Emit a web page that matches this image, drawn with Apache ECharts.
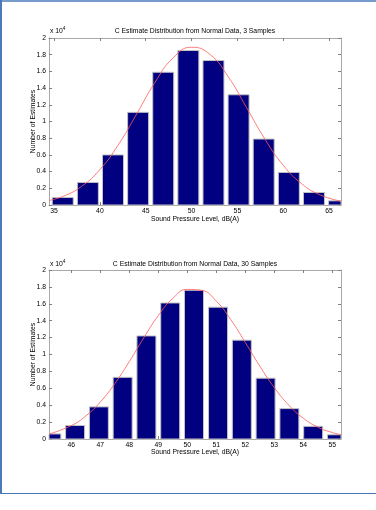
<!DOCTYPE html>
<html>
<head>
<meta charset="utf-8">
<script src="https://cdn.jsdelivr.net/npm/echarts@6/dist/echarts.min.js"></script>
<style>
  html, body { margin: 0; padding: 0; background: #fff; }
  #chart { width: 376px; height: 510px; }
</style>
</head>
<body>
<div id="chart"></div>
<script>
// histogram 1: 3 samples (counts in units of 10^4)
var binCenters3 = [35.95, 38.69, 41.43, 44.17, 46.91, 49.65, 52.39, 55.13, 57.87, 60.61, 63.35, 66.09];
var counts3 = [0.09, 0.27, 0.6, 1.11, 1.59, 1.85, 1.73, 1.32, 0.79, 0.39, 0.15, 0.05];
// fitted normal curve
var fitX3 = [34.45, 36, 38, 40, 42, 44, 46, 48, 50, 52, 54, 56, 58, 60, 62, 64, 66.3];
var fitY3 = [0.055, 0.104, 0.223, 0.424, 0.72, 1.088, 1.467, 1.763, 1.889, 1.804, 1.536, 1.166, 0.789, 0.476, 0.256, 0.122, 0.046];
var xTicks3 = [35, 40, 45, 50, 55, 60, 65];

// histogram 2: 30 samples
var binCenters30 = [45.31, 46.13, 46.95, 47.77, 48.59, 49.41, 50.23, 51.06, 51.88, 52.70, 53.52, 54.34, 55.16];
var counts30 = [0.06, 0.16, 0.38, 0.73, 1.22, 1.61, 1.76, 1.56, 1.17, 0.72, 0.36, 0.15, 0.05];
var fitX30 = [45.23, 46, 46.5, 47, 47.5, 48, 48.5, 49, 49.5, 50, 50.5, 51, 51.5, 52, 52.5, 53, 53.5, 54, 54.5, 55, 55.3];
var fitY30 = [0.058, 0.159, 0.273, 0.438, 0.656, 0.917, 1.198, 1.461, 1.664, 1.77, 1.758, 1.631, 1.412, 1.142, 0.862, 0.608, 0.401, 0.246, 0.141, 0.076, 0.051];
var xTicks30 = [46, 47, 48, 49, 50, 51, 52, 53, 54, 55];

var titles = ['C Estimate Distribution from Normal Data, 3 Samples', 'C Estimate Distribution from Normal Data, 30 Samples'];
var xName = 'Sound Pressure Level, dB(A)';
var yName = 'Number of Estimates';

var FONT = '"Liberation Sans", Arial, sans-serif';
var FS = 6.8;
var boxColor = '#a8a8a8';
var tickColor = '#808080';

var chart = echarts.init(document.getElementById('chart'));

function zip(a, b) {
    return a.map(function(v, i) { return [v, b[i]]; });
}

function xAxes(gridIndex, min, max, ticks) {
    return [{
        type: 'value', gridIndex: gridIndex, position: 'bottom', min: min, max: max,
        axisLine: { show: true, onZero: false, lineStyle: { color: boxColor, width: 1 } },
        axisTick: { show: true, inside: true, length: 3, customValues: ticks, lineStyle: { color: tickColor } },
        axisLabel: { show: true, customValues: ticks, fontSize: FS, color: '#000', fontFamily: FONT, margin: 3 },
        splitLine: { show: false }
    }, {
        type: 'value', gridIndex: gridIndex, position: 'top', min: min, max: max,
        axisLine: { show: true, onZero: false, lineStyle: { color: boxColor, width: 1 } },
        axisTick: { show: true, inside: true, length: 3, customValues: ticks, lineStyle: { color: tickColor } },
        axisLabel: { show: false },
        splitLine: { show: false }
    }];
}

function yAxes(gridIndex) {
    return [{
        type: 'value', gridIndex: gridIndex, position: 'left', min: 0, max: 2, interval: 0.2,
        axisLine: { show: true, onZero: false, lineStyle: { color: boxColor, width: 1 } },
        axisTick: { show: true, inside: true, length: 3, lineStyle: { color: tickColor } },
        axisLabel: { show: true, fontSize: FS, color: '#000', fontFamily: FONT, margin: 3 },
        splitLine: { show: false }
    }, {
        type: 'value', gridIndex: gridIndex, position: 'right', min: 0, max: 2, interval: 0.2,
        axisLine: { show: true, onZero: false, lineStyle: { color: boxColor, width: 1 } },
        axisTick: { show: true, inside: true, length: 3, lineStyle: { color: tickColor } },
        axisLabel: { show: false },
        splitLine: { show: false }
    }];
}

// bars drawn through the axes, clipped to the plot box like MATLAB does
function barSeries(axisIdx, centers, counts, width) {
    return {
        type: 'custom', xAxisIndex: axisIdx, yAxisIndex: axisIdx,
        data: zip(centers, counts),
        encode: { x: 0, y: 1 },
        renderItem: function(params, api) {
            var top = api.coord([api.value(0), api.value(1)]);
            var base = api.coord([api.value(0), 0]);
            var cs = params.coordSys;
            var rect = echarts.graphic.clipRectByRect(
                { x: top[0] - width / 2, y: top[1], width: width, height: base[1] - top[1] },
                { x: cs.x, y: cs.y, width: cs.width, height: cs.height }
            );
            return rect && {
                type: 'rect', shape: rect,
                style: { fill: '#000080', stroke: '#c4c4c4', lineWidth: 1 }
            };
        },
        animation: false
    };
}

function fitSeries(axisIdx, xs, ys) {
    return {
        type: 'line', xAxisIndex: axisIdx, yAxisIndex: axisIdx,
        data: zip(xs, ys), smooth: true, showSymbol: false, symbol: 'none',
        lineStyle: { color: '#ff5c5c', width: 0.8 },
        z: 5, animation: false
    };
}

function label(text, x, y, rotate) {
    return {
        type: 'text', x: x, y: y, rotation: rotate ? Math.PI / 2 : 0,
        style: { text: text, fontSize: FS, fontFamily: FONT, fill: '#000', align: 'center', verticalAlign: 'middle' }
    };
}

function expLabel(x, y) {
    return {
        type: 'text', x: x, y: y,
        style: {
            text: '{a|x 10}{b|4}',
            verticalAlign: 'middle',
            rich: {
                a: { fontSize: FS, fontFamily: FONT, fill: '#000' },
                b: { fontSize: 4.8, fontFamily: FONT, fill: '#000', verticalAlign: 'top', padding: [0, 0, 4, 0] }
            }
        }
    };
}

var option = {
    animation: false,
    backgroundColor: '#fff',
    grid: [
        { left: 49, top: 38, width: 292, height: 167 },
        { left: 49, top: 270, width: 292, height: 169 }
    ],
    xAxis: xAxes(0, 34.45, 66.3, xTicks3).concat(xAxes(1, 45.23, 55.3, xTicks30)),
    yAxis: yAxes(0).concat(yAxes(1)),
    series: [
        barSeries(0, binCenters3, counts3, 21),
        fitSeries(0, fitX3, fitY3),
        barSeries(2, binCenters30, counts30, 19),
        fitSeries(2, fitX30, fitY30)
    ],
    graphic: [
        label(titles[0], 195, 31),
        label(titles[1], 195, 264.5),
        label(xName, 195, 219),
        label(xName, 195, 452.5),
        label(yName, 33, 121.5, true),
        label(yName, 33, 354.5, true),
        expLabel(50, 31),
        expLabel(50, 264),
        // figure frame
        { type: 'line', shape: { x1: 1, y1: 0, x2: 1, y2: 494 }, style: { stroke: '#4a7ab8', lineWidth: 2 } },
        { type: 'line', shape: { x1: 0, y1: 1, x2: 376, y2: 1 }, style: { stroke: '#4a7ab8', lineWidth: 1.5 } },
        { type: 'line', shape: { x1: 0, y1: 493.5, x2: 376, y2: 493.5 }, style: { stroke: '#4a7ab8', lineWidth: 1 } }
    ]
};

chart.setOption(option);
</script>
</body>
</html>
